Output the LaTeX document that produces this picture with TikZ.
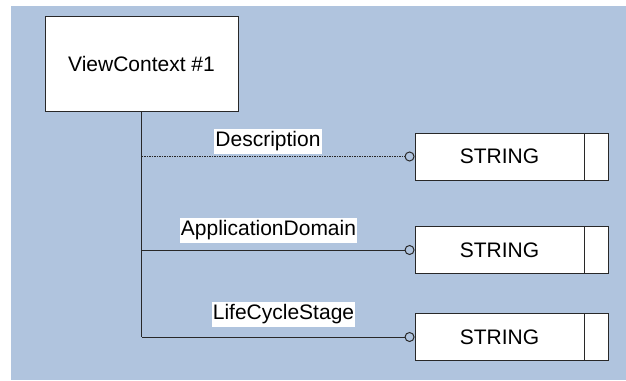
\documentclass[tikz,border=0pt]{standalone}
\usepackage{fontspec}
\setmainfont{Liberation Sans}
\usepackage{tikz}
\usetikzlibrary{positioning,arrows.meta}
\definecolor{bgblue}{RGB}{176,196,222}
\definecolor{linegray}{RGB}{40,40,40}

\begin{document}
\begin{tikzpicture}[x=1pt,y=-1pt,
  font=\fontsize{21}{25}\selectfont,
  entity/.style={draw=linegray, line width=0.9pt, fill=white, inner sep=0pt},
  strbox/.style={entity, minimum width=169pt, minimum height=47pt},
  endbox/.style={entity, minimum width=24pt, minimum height=47pt},
  lbl/.style={fill=white, inner xsep=1pt, inner ysep=3pt},
  conn/.style={linegray, line width=1pt, -{Circle[open,length=10pt,width=10pt,line width=1pt]}}]
\useasboundingbox (0,0) rectangle (626,380);
\fill[bgblue] (11,6) rectangle (626,380);

\node[entity, minimum width=193pt, minimum height=95pt] (vc) at (141.5,63.5) {ViewContext \#1};

\node[strbox] (s1) at (499.5,156.5) {STRING};
\node[endbox, right=0pt of s1] (e1) {};
\node[strbox] (s2) at (499.5,250) {STRING};
\node[endbox, right=0pt of s2] (e2) {};
\node[strbox] (s3) at (499.5,337) {STRING};
\node[endbox, right=0pt of s3] (e3) {};

\draw[linegray, line width=1pt] (vc.south) -- (vc.south |- s3.west);
\draw[conn, dash pattern=on 1.5pt off 1pt] (vc.south |- s1.west) -- (s1.west);
\draw[conn] (vc.south |- s2.west) -- (s2.west);
\draw[conn] (vc.south |- s3.west) -- (s3.west);

\node[lbl] (l1) at (268,141.5) {Description};
\node[lbl] (l2) at (268.5,230.5) {ApplicationDomain};
\node[lbl] (l3) at (283.5,314.5) {LifeCycleStage};
\end{tikzpicture}
\end{document}
